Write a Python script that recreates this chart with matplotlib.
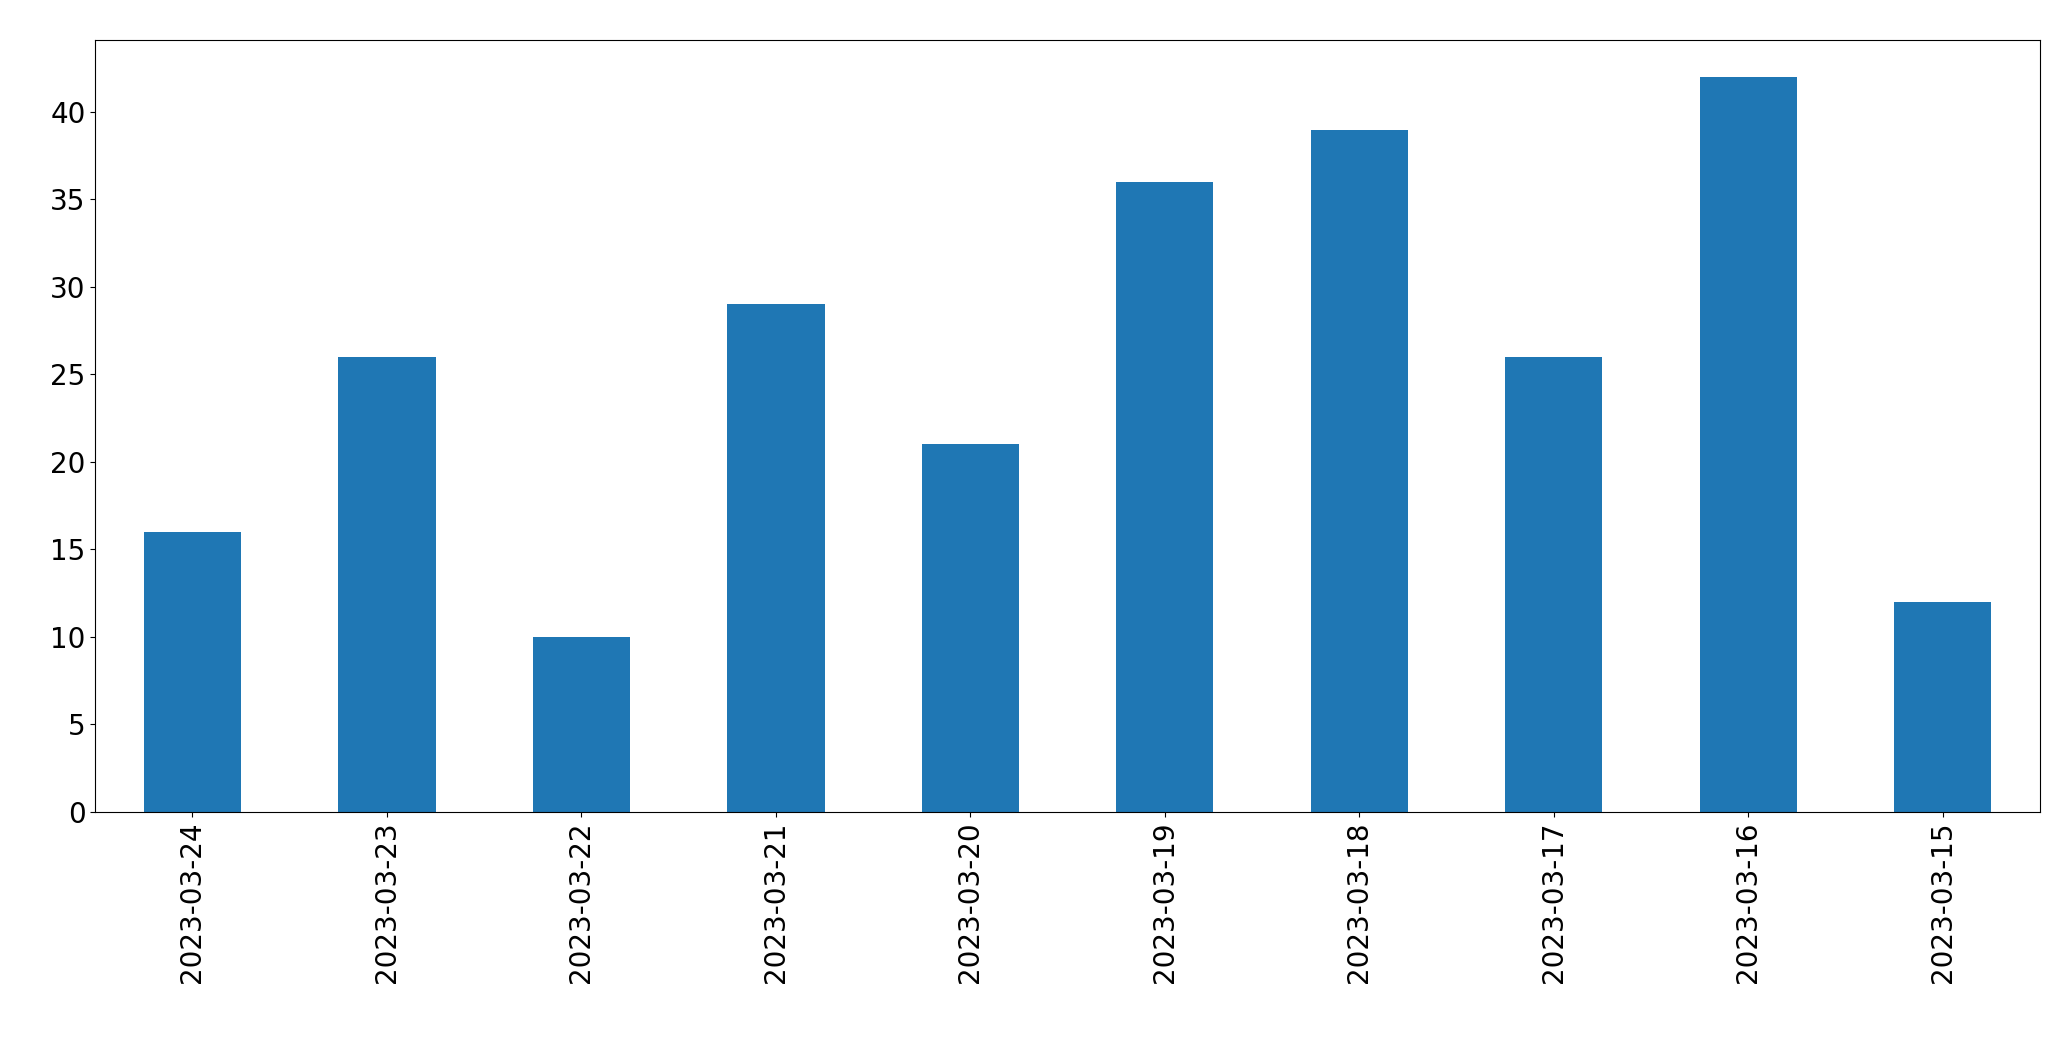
import matplotlib
matplotlib.use("Agg")
import matplotlib.pyplot as plt

# --- Data ---
dates = ["2023-03-24", "2023-03-23", "2023-03-22", "2023-03-21", "2023-03-20",
         "2023-03-19", "2023-03-18", "2023-03-17", "2023-03-16", "2023-03-15"]
counts = [16, 26, 10, 29, 21, 36, 39, 26, 42, 12]

# --- Plot ---
fig, ax = plt.subplots(figsize=(20.71, 10.61), dpi=100)
x = range(len(dates))
ax.bar(x, counts, width=0.5, color="#1f77b4")
ax.set_xticks(list(x))
ax.set_xticklabels(dates, rotation=90)
ax.set_xlim(-0.5, len(dates) - 0.5)
ax.set_ylim(0, 44.1)
ax.tick_params(labelsize=20)
fig.subplots_adjust(left=0.046, right=0.985, top=0.962, bottom=0.235)
fig.savefig("out.png")
